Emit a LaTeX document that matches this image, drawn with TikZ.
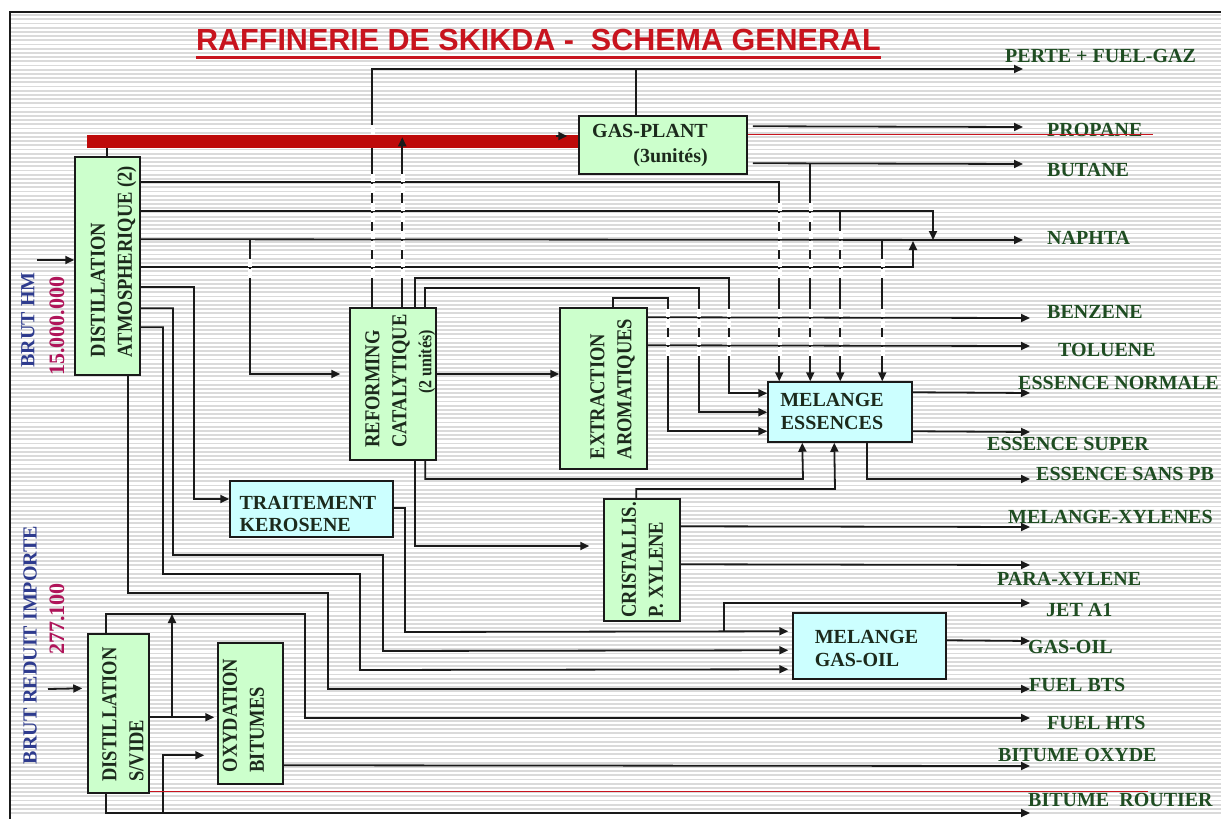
\documentclass[tikz,border=0pt]{standalone}
\usepackage{fontspec}
\usepackage{graphicx}
\setmainfont{Liberation Serif}
\newfontfamily\titlefont{Liberation Sans}
\usetikzlibrary{arrows.meta}
\definecolor{boxgreen}{HTML}{CCFFCC}
\definecolor{boxcyan}{HTML}{CCFFFF}
\definecolor{labgreen}{HTML}{1F4D22}
\definecolor{boxtext}{HTML}{1C2A1C}
\definecolor{titlered}{HTML}{C8141E}
\definecolor{barred}{HTML}{BE0A0A}
\definecolor{navy}{HTML}{2E3B8E}
\definecolor{crimson}{HTML}{B0155A}
\definecolor{stripe}{HTML}{DADADA}
\definecolor{ink}{HTML}{1A1A1A}
% two-line rotated caption, glyphs widened across the page
\newcommand\vlines[2]{\scalebox{1}[1.15]{\begin{tabular}{@{}l@{}}#1\\#2\end{tabular}}}
\begin{document}
\begin{tikzpicture}[x=1pt,y=-1pt,
  conn/.style={draw=ink,line width=1.8pt},
  arr/.style={-{Triangle[length=9pt,width=8pt]}},
  gbox/.style={draw=ink,line width=1.5pt,fill=boxgreen,inner sep=0pt},
  cbox/.style={draw=ink,line width=1.5pt,fill=boxcyan,inner sep=0pt},
  vtxt/.style={rotate=90,inner sep=0pt,text=boxtext,font=\fontsize{18.5}{23.5}\selectfont\bfseries},
  htxt/.style={inner sep=0pt,text=boxtext,font=\fontsize{20}{23}\selectfont\bfseries},
  prod/.style={anchor=west,inner sep=0pt,text=labgreen,font=\fontsize{20}{22}\selectfont\bfseries},
  feed/.style={rotate=90,inner sep=0pt,font=\fontsize{20}{22}\selectfont\bfseries},
  thinred/.style={draw=titlered,line width=1pt},
  gapfill/.style={fill=white}
]
% page and striped background
\fill[white] (0,0) rectangle (1221,819);
\useasboundingbox (0,0) rectangle (1221,819);
\foreach \k in {0,...,190}
  \draw[stripe,line width=1.8pt] (11,{15+4.2*\k}) -- (1221,{15+4.2*\k});
\draw[ink,line width=1.5pt] (10,819) -- (10,12) -- (1221,12);

% title
\node[anchor=base west,inner sep=0pt,text=titlered,font=\titlefont\fontsize{30.5}{34}\selectfont\bfseries]
  (title) at (196,50) {RAFFINERIE DE SKIKDA -~ SCHEMA GENERAL};
\draw[titlered,line width=2.5pt] ([yshift=-7pt]title.south west) -- ([yshift=-7pt]title.south east);

% process units
\node[gbox,minimum width=65pt,minimum height=218pt] (dA) at (107.5,266) {};
\node[gbox,minimum width=168pt,minimum height=58pt] (gp) at (663,145) {};
\node[gbox,minimum width=86pt,minimum height=152pt] (rf) at (393,384) {};
\node[gbox,minimum width=87pt,minimum height=161pt] (ex) at (603.5,388.5) {};
\node[cbox,minimum width=144pt,minimum height=60pt] (me) at (840,412) {};
\node[cbox,minimum width=163pt,minimum height=56pt] (tk) at (311.5,509) {};
\node[gbox,minimum width=76pt,minimum height=122pt] (cx) at (642,560) {};
\node[cbox,minimum width=153pt,minimum height=66pt] (mg) at (869.5,646) {};
\node[gbox,minimum width=61pt,minimum height=159pt] (dv) at (118.5,713.5) {};
\node[gbox,minimum width=65pt,minimum height=141pt] (ox) at (250.5,713.5) {};

% ports on the units
\coordinate (dAN) at ([xshift=33pt]dA.north west);
\coordinate (dA1) at ([yshift=-26pt]dA.north east);
\coordinate (dA2) at ([yshift=-55pt]dA.north east);
\coordinate (dA3) at ([yshift=-83pt]dA.north east);
\coordinate (dA4) at ([yshift=-111pt]dA.north east);
\coordinate (dA5) at ([yshift=-131pt]dA.north east);
\coordinate (dA6) at ([yshift=-152pt]dA.north east);
\coordinate (dA7) at ([yshift=-171pt]dA.north east);
\coordinate (dAS) at ([xshift=54pt]dA.south west);
\coordinate (meN1) at ([xshift=12pt]me.north west);
\coordinate (meN2) at ([xshift=43pt]me.north west);
\coordinate (meN3) at ([xshift=73pt]me.north west);
\coordinate (meN4) at ([xshift=115pt]me.north west);
\coordinate (meW1) at ([yshift=-12pt]me.north west);
\coordinate (meW2) at ([yshift=-31pt]me.north west);
\coordinate (meW3) at ([yshift=-50pt]me.north west);
\coordinate (meE1) at ([yshift=-11pt]me.north east);
\coordinate (meE2) at ([yshift=-50pt]me.north east);
\coordinate (meS1) at ([xshift=35pt]me.south west);
\coordinate (meS2) at ([xshift=67pt]me.south west);
\coordinate (meS3) at ([xshift=100pt]me.south west);
\coordinate (rfN1) at ([xshift=23pt]rf.north west);
\coordinate (rfN2) at ([xshift=53pt]rf.north west);
\coordinate (rfN3) at ([xshift=66pt]rf.north west);
\coordinate (rfN4) at ([xshift=76pt]rf.north west);
\coordinate (rfS1) at ([xshift=66pt]rf.south west);
\coordinate (rfS2) at ([xshift=76pt]rf.south west);
\coordinate (rfE) at ([yshift=10pt]rf.east);
\coordinate (rfW) at ([yshift=10pt]rf.west);
\coordinate (exN) at ([xshift=54pt]ex.north west);
\coordinate (exE1) at ([yshift=-10pt]ex.north east);
\coordinate (exE2) at ([yshift=-38pt]ex.north east);
\coordinate (cxN) at ([xshift=33pt]cx.north west);
\coordinate (cxW) at ([yshift=14pt]cx.west);
\coordinate (cxE1) at ([yshift=-28pt]cx.north east);
\coordinate (cxE2) at ([yshift=-66pt]cx.north east);
\coordinate (gpN) at ([xshift=58pt]gp.north west);
\coordinate (gpE1) at ([xshift=5pt,yshift=-11pt]gp.north east);
\coordinate (gpE2) at ([xshift=5pt,yshift=-48pt]gp.north east);
\coordinate (gpR) at ([yshift=-19pt]gp.north east);
\coordinate (tkW) at ([yshift=10pt]tk.west);
\coordinate (tkE) at ([yshift=1pt]tk.east);
\coordinate (mgW1) at ([yshift=-19pt]mg.north west);
\coordinate (mgW2) at ([yshift=-38pt]mg.north west);
\coordinate (mgW3) at ([yshift=-57pt]mg.north west);
\coordinate (mgE) at ([yshift=-28pt]mg.north east);
\coordinate (dvN) at ([xshift=19pt]dv.north west);
\coordinate (dvS) at ([xshift=19pt]dv.south west);
\coordinate (dvE) at ([yshift=-84pt]dv.north east);
\coordinate (dvW) at ([yshift=-55pt]dv.north west);
\coordinate (dvR) at ([yshift=-158pt]dv.north east);
\coordinate (oxW1) at ([yshift=-75pt]ox.north west);
\coordinate (oxW2) at ([yshift=-113pt]ox.north west);
\coordinate (oxE) at ([yshift=-123pt]ox.north east);

% product ends, feeds and junctions
\coordinate (tPerte) at (1023,69);
\coordinate (tPropane) at (1023,127);
\coordinate (tButane) at (1023,164);
\coordinate (tNaphta) at (1023,240);
\coordinate (tBenz) at (1030,318);
\coordinate (tTol) at (1030,346);
\coordinate (tEssN) at (1030,393);
\coordinate (tEssS) at (1030,432);
\coordinate (tSans) at (1030,479);
\coordinate (tMX) at (1030,527);
\coordinate (tPX) at (1030,565);
\coordinate (tJet) at (1030,603);
\coordinate (tGO) at (1030,641);
\coordinate (tBTS) at (1030,689);
\coordinate (tHTS) at (1030,718);
\coordinate (tBOx) at (1030,766);
\coordinate (tBR) at (1030,813);
\coordinate (srcHM) at (37,260);
\coordinate (srcBR) at (48,689);
\coordinate (jNap1) at (933,240);
\coordinate (jNap2) at (913,241);
\coordinate (jRf) at (250,240);
\coordinate (jJet) at (724,632);
\coordinate (jOxUp) at (172,718);
\coordinate (jOxLo) at (163,813);
\coordinate (barL) at (87,141.5);

% gas collection to the gas plant
\draw[conn] (dAN) -- ++(0,-16);
\draw[conn,arr] (rfN1) |- (tPerte);
\draw[conn] (gpN) -- (gpN |- tPerte);
\draw[barred,line width=13pt] (barL) -- (barL -| gp.west);
\fill[gapfill] (371,125) rectangle (375,134.5);
\draw[conn,arr] (rfN2) -- ++(0,-170);
\draw[conn,arr] ([xshift=-22pt,yshift=9pt]gp.west) -- ([xshift=-11pt,yshift=9pt]gp.west);
\draw[conn,arr] (gpE1) -- (tPropane);
\draw[conn,arr] (gpE2) -- (tButane);
\draw[conn,arr] (tButane -| meN2) -- (meN2);

% atmospheric distillation cuts
\draw[conn,arr] (srcHM) -- (srcHM -| dA.west);
\draw[conn,arr] (dA1) -| (meN1);
\draw[conn,arr] (dA2) -| (jNap1);
\draw[conn,arr] (dA2 -| meN3) -- (meN3);
\draw[conn,arr] (dA3) -- (tNaphta);
\draw[conn,arr,shorten >=9pt] (jRf) |- (rfW);
\draw[conn,arr] (dA3 -| meN4) -- (meN4);
\draw[conn,arr] (dA4) -| (jNap2);
\draw[conn,arr] (dA5) -| ([xshift=-35pt]tkW) -- (tkW);
\draw[conn,arr,shorten >=4pt] (dA6) -| (173,555) -| (383,651) -- (mgW2);
\draw[conn,arr,shorten >=4pt] (dA7) -| (163,574) -| (360,670) -- (mgW3);
\draw[conn,arr] (dAS) |- (328,593) |- (tBTS);

% reforming, extraction and gasoline blending
\draw[conn,arr] (rfN3) |- (729,278) |- (meW1);
\draw[conn,arr] (rfN4) |- (699,288) |- (meW2);
\draw[conn,arr] (exN) |- (668,298) |- (meW3);
\draw[conn,arr] (rfE) -- (rfE -| ex.west);
\draw[conn,arr,shorten >=14pt] (rfS1) |- (cxW);
\draw[conn,arr] (rfS2) |- (803,479) -- (meS1);
\draw[conn,arr] (cxN) |- (835,489) -- (meS2);
\draw[conn,arr] (exE1) -- (tBenz);
\draw[conn,arr] (exE2) -- (tTol);
\draw[conn,arr] (meE1) -- (tEssN);
\draw[conn,arr] (meE2) -- (tEssS);
\draw[conn,arr] (meS3) |- (tSans);
\draw[conn,arr] (cxE1) -- (tMX);
\draw[conn,arr] (cxE2) -- (tPX);

% kerosene and gas-oil
\draw[conn,arr,shorten >=4pt] (tkE) -| (405,632) -- (mgW1);
\draw[conn,arr] (jJet) |- (tJet);
\draw[conn,arr] (mgE) -- (tGO);

% vacuum distillation and bitumen
\draw[conn,arr,shorten >=5pt] (srcBR) -- (dvW);
\draw[conn,arr] (dvN) |- (305,614) |- (tHTS);
\draw[conn,arr,shorten >=3pt] (dvE) -- (oxW1);
\draw[conn,arr] (jOxUp) -- ++(0,-104);
\draw[conn,arr] (dvS) |- (tBR);
\draw[conn,arr,shorten >=13pt] (jOxLo) |- (oxW2);
\draw[conn,arr] (oxE) -- (tBOx);

% line hops where vertical runs pass behind horizontal ones
\foreach \x/\y in {373/183,373/212,373/240,373/268,403/183,403/212,403/240,403/268,
  250/268,780/212,780/240,780/268,780/318,780/346,811/212,811/240,811/268,811/318,811/346,
  841/240,841/268,841/318,841/346,883/268,883/318,883/346,729/318,729/346,
  699/318,699/346,668/318,668/346}{
  \fill[gapfill] (\x-2.2,\y-9.5) rectangle (\x+2.2,\y-0.95);
  \fill[gapfill] (\x-2.2,\y+0.95) rectangle (\x+2.2,\y+9.5);
}

% unit names
\node[vtxt] (dAt) at (113,261.5) {\vlines{DISTILLATION}{ATMOSPHERIQUE (2)}};
\node[vtxt] (rft) at (387.5,381) {\vlines{REFORMING}{CATALYTIQUE}};
\node[vtxt,font=\fontsize{16}{20}\selectfont\bfseries] (rft2) at (427,362) {\scalebox{1}[1.15]{(2 unités)}};
\node[vtxt] (ext) at (612.5,389) {\vlines{EXTRACTION}{AROMATIQUES}};
\node[vtxt] (cxt) at (644,560) {\vlines{CRISTALLIS.}{P. XYLENE}};
\node[vtxt] (dvt) at (124.5,714.5) {\vlines{DISTILLATION}{S/VIDE}};
\node[vtxt] (oxt) at (245,715.5) {\vlines{OXYDATION}{BITUMES}};
\node[htxt,align=right,font=\fontsize{20}{25}\selectfont\bfseries] (gpt) at (650,145.5) {GAS-PLANT\\(3unités)};
\node[htxt,align=center] (met) at (832,411.5) {MELANGE\\ESSENCES};
\node[htxt,align=left,font=\fontsize{20}{22}\selectfont\bfseries] (tkt) at (308,514) {TRAITEMENT\\KEROSENE};
\node[htxt,align=left] (mgt) at (866.5,648.5) {MELANGE\\GAS-OIL};

% feeds
\node[feed,text=navy] (fHM) at (28,320) {BRUT HM};
\node[feed,text=crimson,font=\fontsize{22}{24}\selectfont\bfseries] (fHMq) at (57,326) {15.000.000};
\node[feed,text=navy] (fBR) at (30,645) {BRUT REDUIT IMPORTE};
\node[feed,text=crimson,font=\fontsize{22}{24}\selectfont\bfseries] (fBRq) at (57,619) {277.100};

% products
\node[prod] (pPerte) at (1005,56) {PERTE + FUEL-GAZ};
\node[prod] (pPropane) at (1047,130) {PROPANE};
\node[prod] (pButane) at (1047,170) {BUTANE};
\node[prod] (pNaphta) at (1047,238) {NAPHTA};
\node[prod] (pBenz) at (1047,312) {BENZENE};
\node[prod] (pTol) at (1058,350) {TOLUENE};
\node[prod] (pEssN) at (1018,383) {ESSENCE NORMALE};
\node[prod] (pEssS) at (987,444) {ESSENCE SUPER};
\node[prod] (pSans) at (1036,474) {ESSENCE SANS PB};
\node[prod] (pMX) at (1008,517) {MELANGE-XYLENES};
\node[prod] (pPX) at (997,579) {PARA-XYLENE};
\node[prod] (pJet) at (1046,610) {JET A1};
\node[prod] (pGO) at (1028,647) {GAS-OIL};
\node[prod] (pBTS) at (1029,685) {FUEL BTS};
\node[prod] (pHTS) at (1047,723) {FUEL HTS};
\node[prod] (pBOx) at (998,755) {BITUME OXYDE};
\node[prod] (pBR) at (1028,800) {BITUME~ ROUTIER};

% thin red rules
\draw[thinred] (gpR) -- ++(405,0);
\draw[thinred] (dvR) -- ++(998,0);
\end{tikzpicture}
\end{document}
